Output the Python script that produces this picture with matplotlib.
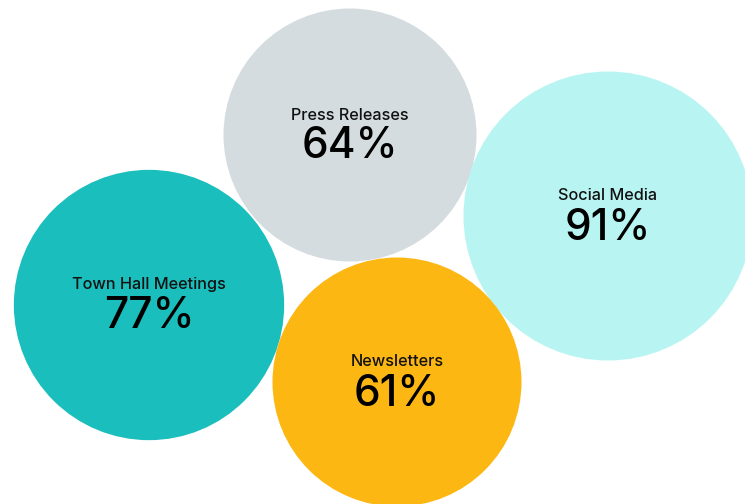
import matplotlib
matplotlib.use("Agg")
import matplotlib.pyplot as plt
from matplotlib.patches import Circle

channels = ["Town Hall Meetings", "Press Releases", "Social Media", "Newsletters"]
shares = [77, 64, 91, 61]

# bubble layout in pixel space (x, y of centre)
centres = [(149, 305), (350, 135), (608, 216), (397, 382)]
colors = ["#1ABEBC", "#D4DCDF", "#B8F5F2", "#FDB713"]

# radius scale: linear between smallest and largest share
R_MIN, R_MAX = 124.5, 144.5
lo, hi = min(shares), max(shares)


def radius(v):
    return R_MIN + (v - lo) / (hi - lo) * (R_MAX - R_MIN)


W, H = 745, 504
fig = plt.figure(figsize=(W / 100, H / 100), dpi=100)
ax = fig.add_axes([0, 0, 1, 1])
ax.set_xlim(0, W)
ax.set_ylim(H, 0)
ax.set_aspect("equal")
ax.axis("off")

font = ["Inter", "DejaVu Sans"]

for name, v, (cx, cy), c in zip(channels, shares, centres, colors):
    ax.add_patch(Circle((cx, cy), radius(v), facecolor=c, edgecolor="none"))
    ax.text(cx, cy - 20, name, ha="center", va="center", fontsize=11.7,
            family=font, fontweight="medium", color="#111111")
    ax.text(cx, cy + 12, f"{v}%", ha="center", va="center", fontsize=30.5,
            family=font, fontweight="medium", color="#000000")

fig.savefig("out.png", dpi=100, facecolor="white")
